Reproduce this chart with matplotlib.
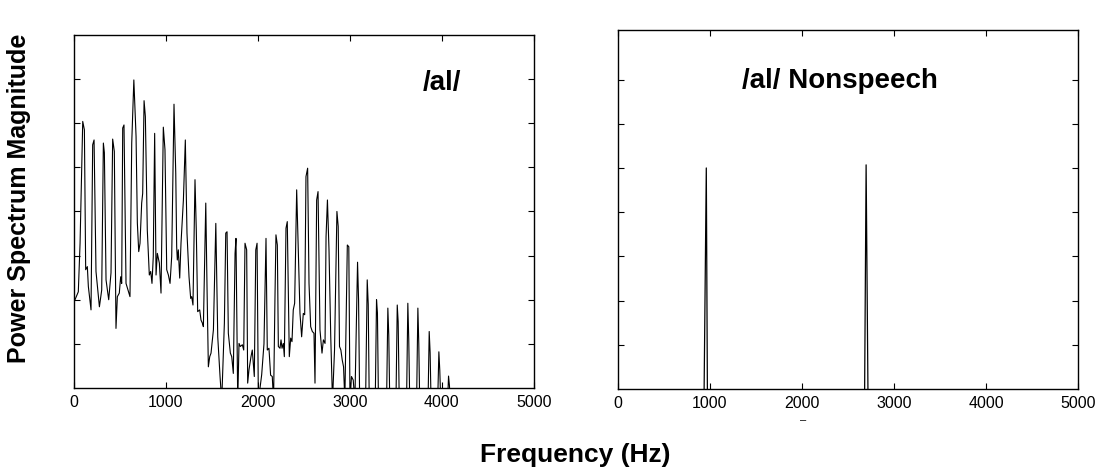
import matplotlib
matplotlib.use("Agg")
import matplotlib.pyplot as plt

plt.rcParams.update({
    "font.family": "Liberation Sans",
    "font.size": 11,
    "xtick.direction": "in",
    "ytick.direction": "in",
    "xtick.top": True,
    "ytick.right": True,
    "axes.linewidth": 1.0,
})

# /al/ spectrum (Hz, magnitude in tick units)
speech_freq = [
    0, 52, 71, 100, 118, 132, 150, 161, 190, 208, 223, 244, 281, 306, 324, 335,
    353, 382, 407, 425, 443, 461, 476, 497, 512, 523, 534, 548, 570, 613, 632,
    655, 679, 693, 708, 722, 740, 751, 766, 780, 801, 823, 838, 852, 866, 881,
    896, 910, 932, 950, 975, 993, 1012, 1030, 1048, 1066, 1091, 1110, 1120,
    1127, 1138, 1153, 1167, 1193, 1214, 1232, 1254, 1272, 1283, 1297, 1319,
    1333, 1348, 1370, 1384, 1399, 1410, 1436, 1450, 1464, 1479, 1493, 1519,
    1545, 1566, 1591, 1609, 1638, 1653, 1667, 1681, 1703, 1718, 1735, 1754,
    1764, 1783, 1797, 1811, 1833, 1848, 1862, 1880, 1891, 1905, 1927, 1941,
    1963, 1979, 1993, 2007, 2043, 2068, 2090, 2104, 2122, 2140, 2158, 2172,
    2187, 2198, 2213, 2224, 2242, 2253, 2264, 2278, 2289, 2307, 2321, 2343,
    2358, 2372, 2386, 2401, 2423, 2440, 2459, 2477, 2495, 2510, 2524, 2542,
    2557, 2575, 2593, 2611, 2622, 2640, 2655, 2676, 2698, 2713, 2731, 2742,
    2757, 2774, 2793, 2812, 2834, 2860, 2874, 2888, 2903, 2918, 2932, 2946,
    2973, 2989, 3002, 3018, 3037, 3055, 3084, 3095, 3108, 3170, 3189, 3200,
    3212, 3275, 3290, 3300, 3312, 3398, 3413, 3423, 3435, 3500, 3515, 3525,
    3538, 3615, 3630, 3640, 3652, 3724, 3739, 3749, 3760, 3848, 3862, 3872,
    3884, 3952, 3967, 3977, 3990, 4058, 4072, 4082, 4094, 5000,
]
speech_mag = [
    1.92, 2.18, 3.28, 6.04, 5.85, 2.68, 2.75, 2.30, 1.77, 5.51, 5.62, 2.64, 1.84, 2.22, 5.55, 5.33,
    2.45, 2.00, 2.61, 5.64, 5.36, 1.35, 2.07, 2.15, 2.52, 2.37, 5.89, 5.96, 2.37, 2.07, 5.55,
    6.98, 5.70, 3.74, 3.09, 3.28, 4.19, 4.41, 6.51, 6.15, 3.58, 2.56, 2.64, 2.37, 2.98, 5.77,
    2.56, 3.05, 2.83, 2.15, 5.91, 5.40, 2.68, 2.56, 2.37, 2.98, 6.43, 4.87, 3.20,
    2.90, 3.13, 2.49, 3.28, 4.26, 5.62, 3.51, 2.52, 2.03, 2.07, 1.88, 4.72,
    3.58, 1.73, 1.77, 1.54, 1.47, 1.39, 4.19, 2.22, 0.48, 0.71, 0.79, 1.32,
    3.73, 1.16, 0.26, -0.3, 1.47, 3.51, 3.54, 1.24, 0.79, 0.71, 0.33, 3.05,
    3.39, -0.3, 1.01, 0.94, 0.98, 0.86, 3.28, 3.13, 0.11, 0.41, 0.71, 0.86,
    0.26, 3.13, 3.28, -0.3, 0.3, 1.0, 3.39, 0.86, 0.90, 0.29, 0.26, -0.3,
    2.0, 3.47, 3.24, 0.94, 0.90, 1.09, 0.90, 1.01, 0.71, 3.62, 3.77, 0.71,
    1.13, 1.05, 1.77, 1.92, 4.49, 3.13, 1.69, 1.16, 1.69, 1.66, 4.79, 4.98,
    2.37, 1.39, 1.28, 1.24, 0.11, 4.26, 4.45, 1.32, 0.79, 1.09, 1.01, 3.43,
    4.26, 3.13, 1.16, -0.3, 0.86, 4.00, 3.66, 0.94, 0.86, 0.63, 0.48, -0.3,
    3.24, 3.20, -0.3, 0.26, 0.18, -0.3, 2.85, 2.0, -0.5, -0.5, 2.45, 1.9,
    -0.5, -0.5, 2.0, 1.7, -0.5, -0.5, 1.81, 1.2, -0.5, -0.5, 1.88, 1.5,
    -0.5, -0.5, 1.92, 1.1, -0.5, -0.5, 1.81, 1.0, -0.5, -0.5, 1.28, 0.8,
    -0.5, -0.5, 0.82, 0.4, -0.5, -0.5, 0.27, 0.05, -0.5, -0.5,
]

# /al/ nonspeech: two sine components
tone_freq = [0, 934, 960, 973, 2680, 2697, 2718, 5000]
tone_mag = [-0.5, -0.5, 5.0, -0.5, -0.3, 5.07, -0.3, -0.5]

xticks = [0, 1000, 2000, 3000, 4000, 5000]

fig = plt.figure(figsize=(10.99, 4.72), dpi=100)
ax1 = fig.add_axes([0.0669, 0.178, 0.419, 0.748])
ax2 = fig.add_axes([0.5623, 0.1758, 0.4186, 0.7606])

ax1.plot(speech_freq, speech_mag, color="black", linewidth=0.8)
ax1.set_ylim(0, 8)
ax1.text(4000, 6.9, "/al/", fontsize=20, fontweight="bold", ha="center", va="center")

ax2.plot(tone_freq, tone_mag, color="black", linewidth=0.9)
ax2.set_ylim(0, 8.12)
ax2.text(2412, 6.97, "/al/ Nonspeech", fontsize=20, fontweight="bold",
         ha="center", va="center")

for ax in (ax1, ax2):
    ax.set_xlim(0, 5000)
    ax.set_xticks(xticks)
    ax.set_yticks([1, 2, 3, 4, 5, 6, 7])
    ax.set_yticklabels([])
    ax.tick_params(length=4, width=0.8, labelsize=11.5, pad=5)

fig.text(0.017, 0.58, "Power Spectrum Magnitude", rotation=90, fontsize=18,
         fontweight="bold", ha="center", va="center")
fig.text(0.523, 0.035, "Frequency (Hz)", fontsize=19, fontweight="bold",
         ha="center", va="center")
fig.text(0.731, 0.11, "\u2013", fontsize=8, ha="center", va="center")

fig.savefig("out.png", dpi=100, facecolor="white")
